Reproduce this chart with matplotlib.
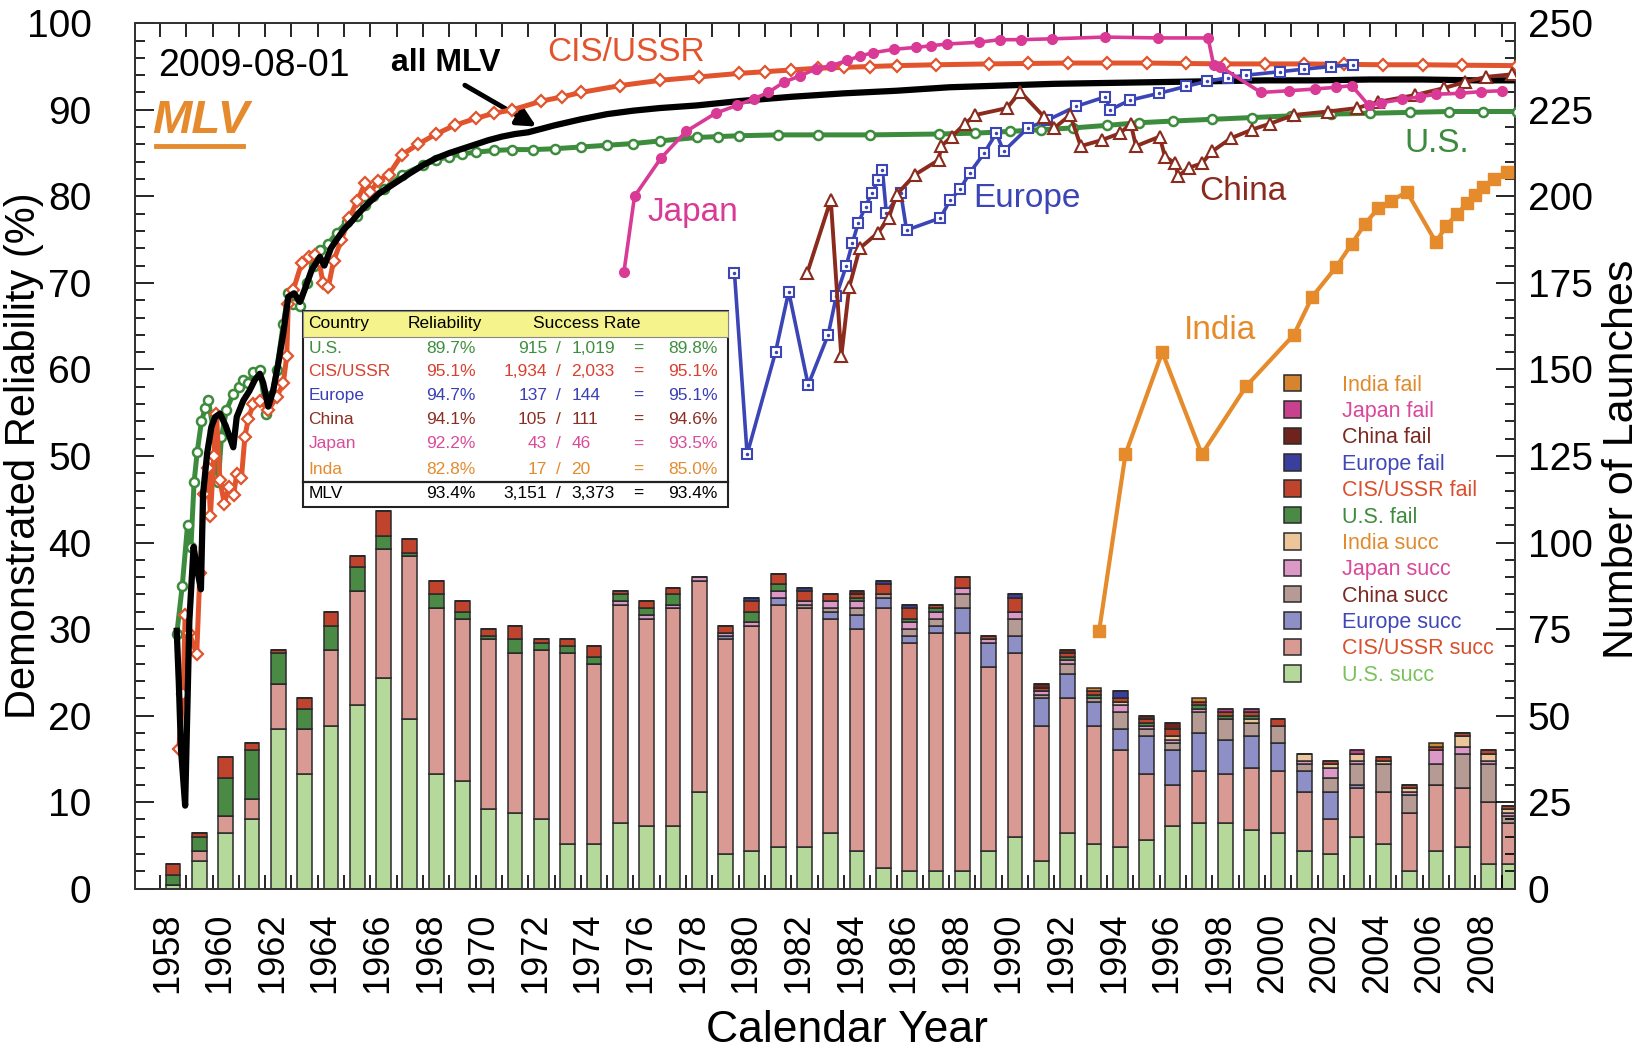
import numpy as np
import matplotlib
matplotlib.use("Agg")
import matplotlib.pyplot as plt
from matplotlib.patches import Rectangle
from matplotlib.lines import Line2D

plt.rcParams['font.family'] = ['Liberation Sans', 'DejaVu Sans']

# ---- launches per calendar year (data through 2009-08-01) ----
years = np.arange(1958, 2010)
data_end = 2009.58

us_succ = [1, 8, 16, 20, 46, 33, 47, 53, 61, 49, 33, 31, 23, 22, 20, 13, 13, 19, 18, 18,
           28, 10, 11, 12, 12, 16, 11, 6, 5, 5, 5, 11, 15, 8, 16, 13, 12, 14, 18, 19,
           19, 17, 16, 11, 10, 15, 13, 5, 11, 12, 7, 7]
cis_succ = [0, 3, 5, 6, 13, 13, 22, 33, 37, 47, 48, 47, 49, 46, 49, 55, 52, 63, 60, 63,
            61, 62, 65, 70, 69, 62, 64, 75, 66, 69, 69, 53, 53, 39, 39, 34, 28, 19, 12, 15,
            14, 18, 18, 17, 10, 14, 15, 17, 19, 17, 18, 12]
eu_succ = [0] * 21 + [1, 0, 2, 0, 2, 4, 3, 2, 2, 7, 7, 5, 8, 7, 7, 6, 11, 10, 11,
                      10, 9, 8, 6, 8, 1, 0, 0, 0, 0, 0, 0]
cn_succ = [0] * 24 + [1, 1, 2, 1, 2, 2, 4, 0, 5, 1, 3, 1, 5, 2, 2, 6,
                      6, 4, 5, 2, 4, 6, 8, 5, 6, 10, 11, 2]
jp_succ = [0] * 17 + [1, 1, 1, 1, 1, 1, 2, 1, 2, 2, 0, 2, 2, 2, 1, 2, 1, 1, 0, 2, 1, 1, 1,
                      0, 0, 0, 1, 3, 1, 0, 1, 4, 2, 1, 1]
in_succ = [0] * 36 + [1, 0, 1, 0, 0, 1, 0, 2, 1, 2, 1, 1, 0, 3, 2, 1]
us_fail = [3, 4, 11, 14, 9, 6, 7, 7, 4, 1, 4, 2, 1, 4, 2, 2, 2, 2, 2, 3,
           0, 0, 3, 2, 0, 0, 1, 0, 1, 1, 0, 0, 0, 0, 1, 1, 0, 1, 0, 1,
           1, 1, 0, 0, 0, 0, 0, 0, 0, 0, 0, 0]
cis_fail = [3, 1, 6, 2, 1, 3, 4, 3, 7, 4, 4, 3, 2, 4, 1, 2, 3, 1, 2, 2,
            0, 2, 3, 3, 3, 2, 1, 3, 3, 1, 3, 1, 4, 1, 1, 1, 1, 1, 2, 1,
            1, 1, 2, 0, 1, 0, 1, 1, 1, 1, 1, 1]
eu_fail = [0] * 22 + [1, 0, 1, 0, 0, 1, 1, 0, 0, 0, 1, 0, 0, 0, 2] + [0] * 15
cn_fail = [0] * 26 + [1, 0, 0, 0, 0, 0, 0, 1, 1, 0, 0, 1, 2] + [0] * 13
jp_fail = [0] * 40 + [1, 1, 0, 0, 0, 1] + [0] * 6
in_fail = [0] * 35 + [1, 0, 0, 0, 1] + [0] * 8 + [1, 0, 0, 0]

# ---- demonstrated reliability curves (year, %) ----
us_t = [1958.64, 1958.85, 1959.05, 1959.18, 1959.30, 1959.42, 1959.58, 1959.72, 1959.84, 1960.03,
        1960.22, 1960.34, 1960.53, 1960.79, 1961.00, 1961.17, 1961.36, 1961.55, 1961.80, 1962.05,
        1962.25, 1962.44, 1962.69, 1962.88, 1963.07, 1963.32, 1963.58, 1963.85, 1964.08, 1964.40,
        1964.72, 1965.10, 1965.50, 1965.80, 1966.10, 1966.50, 1967.20, 1968.0, 1968.5, 1969.0,
        1969.5, 1970.0, 1970.7, 1971.4, 1972.2, 1973.0, 1974.0, 1975.0, 1976.0, 1977.0,
        1978.4, 1979.2, 1980.0, 1981.5, 1983.0, 1985.0, 1987.6, 1989.0, 1990.3, 1991.5,
        1992.7, 1994.0, 1995.2, 1996.5, 1998.0, 1999.5, 2001.0, 2002.5, 2004.0, 2005.5,
        2007.0, 2008.3, 2009.58]
us_r = [29.4, 35.0, 42.0, 39.5, 47.0, 50.5, 54.0, 55.5, 56.5, 53.0,
        47.0, 52.2, 55.3, 57.2, 58.0, 58.8, 58.4, 59.7, 59.9, 54.9,
        57.0, 59.9, 65.3, 68.8, 67.6, 67.3, 70.0, 72.0, 73.8, 74.5,
        75.8, 77.0, 77.7, 79.0, 80.0, 80.8, 82.5, 83.6, 84.2, 84.6,
        84.9, 85.1, 85.3, 85.4, 85.4, 85.5, 85.7, 85.9, 86.1, 86.4,
        86.8, 86.9, 87.0, 87.1, 87.1, 87.1, 87.2, 87.3, 87.5, 87.7,
        87.9, 88.2, 88.5, 88.7, 88.9, 89.1, 89.3, 89.5, 89.6, 89.7,
        89.8, 89.8, 89.8]

cis_t = [1958.72, 1958.88, 1958.96, 1959.12, 1959.40, 1959.52, 1959.68, 1959.84, 1959.92, 1960.05,
         1960.15, 1960.28, 1960.45, 1960.62, 1960.80, 1960.92, 1961.10, 1961.23, 1961.36, 1961.55,
         1961.80, 1962.12, 1962.44, 1962.69, 1962.82, 1962.88, 1963.07, 1963.39, 1963.65, 1963.90,
         1964.05, 1964.20, 1964.40, 1964.60, 1964.90, 1965.20, 1965.50, 1965.80, 1966.00, 1966.30,
         1966.70, 1967.20, 1967.80, 1968.50, 1969.20, 1970.00, 1970.70, 1971.40, 1972.50, 1973.30,
         1974.00, 1975.50, 1977.00, 1978.50, 1980.00, 1981.0, 1982.00, 1983.0, 1984.00, 1985.0,
         1986.00, 1987.5, 1989.50, 1991.0, 1992.50, 1994.0, 1995.50, 1997.0, 1998.50, 2000.0,
         2001.50, 2003.0, 2004.50, 2006.0, 2007.50, 2009.58]
cis_r = [16.2, 22.5, 31.6, 29.5, 27.1, 36.5, 45.6, 48.6, 43.1, 50.0,
         54.9, 47.2, 44.5, 46.4, 45.5, 47.9, 47.5, 52.2, 54.3, 56.0,
         56.4, 55.3, 56.8, 58.4, 61.5, 67.6, 69.2, 72.3, 73.0, 73.2,
         72.5, 70.0, 69.5, 72.5, 75.0, 77.5, 79.5, 81.5, 80.5, 81.8,
         82.5, 84.8, 86.0, 87.2, 88.2, 89.0, 89.6, 90.0, 91.0, 91.5,
         92.0, 92.8, 93.4, 93.8, 94.2, 94.4, 94.6, 94.8, 94.9, 95.0,
         95.1, 95.2, 95.3, 95.35, 95.4, 95.4, 95.4, 95.35, 95.3, 95.3,
         95.3, 95.25, 95.2, 95.2, 95.15, 95.1]

mlv_t = [1958.64, 1958.72, 1958.80, 1958.96, 1959.12, 1959.28, 1959.44, 1959.56, 1959.64, 1959.80,
         1959.96, 1960.10, 1960.28, 1960.50, 1960.79, 1960.92, 1961.17, 1961.40, 1961.61, 1961.80,
         1961.93, 1962.12, 1962.31, 1962.50, 1962.69, 1962.88, 1963.10, 1963.32, 1963.50, 1963.77,
         1964.08, 1964.25, 1964.50, 1964.72, 1965.00, 1965.32, 1965.60, 1965.92, 1966.32, 1966.92,
         1967.52, 1968.0, 1968.5, 1969.0, 1969.5, 1970.0, 1970.5, 1971.0, 1971.5, 1972.0,
         1972.5, 1973.0, 1974.0, 1975.0, 1976.0, 1977.0, 1978.4, 1980.0, 1982.0, 1984.0,
         1986.0, 1988.0, 1990.0, 1992.0, 1994.0, 1996.0, 1998.0, 2000.0, 2002.0, 2004.0,
         2006.0, 2008.0, 2009.58]
mlv_r = [29.8, 23.7, 16.2, 9.6, 31.0, 39.5, 36.5, 34.6, 45.6, 50.4,
         53.4, 54.5, 54.9, 53.5, 51.0, 54.5, 56.4, 57.5, 58.8, 59.5,
         58.4, 55.7, 57.6, 60.7, 64.2, 68.4, 68.8, 67.8, 69.2, 71.5,
         73.0, 72.0, 74.0, 75.0, 76.2, 77.2, 78.2, 79.2, 80.3, 81.5,
         82.7, 83.6, 84.4, 85.0, 85.5, 86.0, 86.5, 86.9, 87.2, 87.4,
         87.8, 88.2, 88.9, 89.5, 89.9, 90.2, 90.5, 91.0, 91.5, 91.9,
         92.2, 92.6, 92.8, 93.0, 93.1, 93.2, 93.3, 93.4, 93.4, 93.5,
         93.5, 93.4, 93.4]

jp_t = [1975.64, 1976.04, 1977.04, 1978.00, 1979.12, 1979.92, 1980.60, 1981.12, 1981.72, 1982.32,
        1982.92, 1983.52, 1984.12, 1984.60, 1985.12, 1985.92, 1986.72, 1987.32, 1987.92, 1989.12,
        1989.92, 1990.72, 1991.92, 1993.92, 1995.92, 1997.84, 1998.05, 1998.30, 1999.85, 2000.90,
        2001.90, 2002.70, 2003.30, 2003.95, 2004.40, 2005.20, 2005.90, 2006.50, 2007.40, 2008.20,
        2009.00]
jp_r = [71.3, 80.0, 84.4, 87.5, 89.6, 90.5, 91.3, 92.0, 93.2, 93.9,
        94.7, 95.1, 95.7, 96.2, 96.6, 97.0, 97.2, 97.4, 97.6, 97.8,
        98.1, 98.1, 98.2, 98.4, 98.3, 98.3, 95.2, 95.0, 92.0, 92.2,
        92.4, 92.6, 92.8, 90.5, 90.8, 91.2, 91.5, 91.8, 91.9, 92.1,
        92.2]

eu_t = [1979.84, 1980.32, 1981.40, 1981.90, 1982.64, 1983.40, 1983.71, 1984.08, 1984.32, 1984.54,
        1984.82, 1985.06, 1985.31, 1985.46, 1985.61, 1986.16, 1986.38, 1987.67, 1988.04, 1988.41,
        1988.78, 1989.33, 1989.79, 1990.07, 1990.99, 1991.73, 1992.83, 1993.94, 1994.12, 1994.86,
        1995.97, 1997.00, 1997.81, 1998.60, 1999.28, 2000.57, 2001.50, 2002.50, 2003.34]
eu_r = [71.1, 50.2, 62.0, 69.0, 58.2, 64.0, 68.5, 71.9, 74.6, 76.9,
        78.8, 80.4, 81.9, 83.1, 78.1, 80.4, 76.1, 77.5, 79.6, 80.8,
        82.7, 85.0, 87.3, 85.2, 87.9, 88.8, 90.4, 91.5, 90.0, 91.1,
        91.9, 92.7, 93.3, 93.7, 94.0, 94.4, 94.7, 95.0, 95.2]

cn_t = [1982.60, 1983.50, 1983.90, 1984.20, 1984.60, 1985.30, 1985.70, 1986.00, 1986.70, 1987.60,
        1987.70, 1988.10, 1988.60, 1989.00, 1990.20, 1990.70, 1991.60, 1992.00, 1992.60, 1993.00,
        1993.80, 1994.50, 1994.90, 1995.10, 1996.00, 1996.20, 1996.60, 1996.70, 1997.10, 1997.60,
        1998.00, 1998.70, 1999.50, 2000.20, 2001.10, 2002.40, 2003.50, 2004.30, 2005.70, 2006.80,
        2007.60, 2008.40, 2009.40]
cn_r = [71.1, 79.6, 61.5, 69.5, 74.0, 75.8, 77.5, 80.2, 82.5, 84.2,
        85.8, 86.9, 88.4, 89.4, 90.2, 92.1, 89.2, 87.9, 89.4, 85.8,
        86.5, 87.3, 88.4, 85.8, 86.9, 84.6, 83.8, 82.3, 83.3, 83.8,
        85.2, 86.7, 87.7, 88.4, 89.4, 89.8, 90.2, 90.9, 91.7, 92.5,
        93.2, 93.8, 94.1]

in_t = [1993.70, 1994.70, 1996.10, 1997.60, 1999.30, 2001.10, 2001.80, 2002.70, 2003.30, 2003.80,
        2004.30, 2004.80, 2005.40, 2006.50, 2006.90, 2007.30, 2007.70, 2008.00, 2008.30, 2008.70,
        2009.20]
in_r = [29.8, 50.2, 62.0, 50.2, 58.1, 64.0, 68.4, 71.8, 74.5, 76.8,
        78.6, 79.5, 80.5, 74.7, 76.6, 78.0, 79.2, 80.2, 81.1, 82.0,
        82.8]

# summary table
tab_country = ['U.S.', 'CIS/USSR', 'Europe', 'China', 'Japan', 'Inda']
tab_rel = ['89.7%', '95.1%', '94.7%', '94.1%', '92.2%', '82.8%']
tab_succ = ['915', '1,934', '137', '105', '43', '17']
tab_tot = ['1,019', '2,033', '144', '111', '46', '20']
tab_rate = ['89.8%', '95.1%', '95.1%', '94.6%', '93.5%', '85.0%']
tab_mlv = ['MLV', '93.4%', '3,151', '3,373', '93.4%']

US_C = '#3d8b3d'
CIS_C = '#e2542d'
EU_C = '#3b45b5'
CN_C = '#8a2b1e'
JP_C = '#d93a96'
IN_C = '#e58b2b'
tab_colors = ['#3f8f3f', '#d9412f', '#3a3fb5', '#8b2e22', '#d94c9a', '#e38b2e']

fig = plt.figure(figsize=(16.5, 10.56), dpi=100)
ax = fig.add_axes([0.0816, 0.1584, 0.8368, 0.8196])
ax2 = ax.twinx()
ax.set_zorder(ax2.get_zorder() + 1)
ax.patch.set_visible(False)

# ---- stacked bars (right axis) ----
bar_x = years + 0.5
bar_x[-1] = (years[-1] + data_end) / 2
stack = [
    (us_succ, '#b5d89b', 'U.S. succ', '#7cc25c'),
    (cis_succ, '#d99a94', 'CIS/USSR succ', '#d9502e'),
    (eu_succ, '#8f8fc8', 'Europe succ', '#4048b8'),
    (cn_succ, '#b69a94', 'China succ', '#7a2a20'),
    (jp_succ, '#dc98c6', 'Japan succ', '#d9489a'),
    (in_succ, '#ecc59b', 'India succ', '#e08a2e'),
    (us_fail, '#4b8a45', 'U.S. fail', '#3d8b3d'),
    (cis_fail, '#c0432e', 'CIS/USSR fail', '#d9502e'),
    (eu_fail, '#3a3e9c', 'Europe fail', '#4048b8'),
    (cn_fail, '#6e241d', 'China fail', '#7a2a20'),
    (jp_fail, '#c8418f', 'Japan fail', '#d9489a'),
    (in_fail, '#d5852f', 'India fail', '#e08a2e'),
]
bottom = np.zeros(len(years))
handles, labels, lcolors = [], [], []
for vals, fc, lab, tc in stack:
    v = np.array(vals, dtype=float)
    b = ax2.bar(bar_x, v, width=0.56, bottom=bottom, color=fc,
                edgecolor='#2a2a2a', linewidth=1.1)
    handles.append(b)
    labels.append(lab)
    lcolors.append(tc)
    bottom += v

# ---- reliability curves (left axis) ----
ax.plot(us_t, us_r, color=US_C, lw=3.6, marker='o', ms=6.5, mfc='white',
        mec=US_C, mew=1.8, zorder=3)
ax.plot(cis_t, cis_r, color=CIS_C, lw=3.6, marker='D', ms=6, mfc='white',
        mec=CIS_C, mew=1.6, zorder=4)
ax.plot(mlv_t, mlv_r, color='black', lw=4.5, zorder=5, solid_joinstyle='round')
ax.plot(eu_t, eu_r, color=EU_C, lw=2.6, marker='s', ms=7.5, mfc='white',
        mec=EU_C, mew=1.5, zorder=6)
ax.plot(eu_t, eu_r, ls='none', marker='.', ms=3, color=EU_C, zorder=6)
ax.plot(cn_t, cn_r, color=CN_C, lw=2.8, marker='^', ms=8, mfc='white',
        mec=CN_C, mew=1.5, zorder=6)
ax.plot(jp_t, jp_r, color=JP_C, lw=2.6, marker='o', ms=7, zorder=7)
ax.plot(in_t, in_r, color=IN_C, lw=3, marker='s', ms=8, zorder=7)

# ---- annotations ----
ax.text(1957.92, 95.1, '2009-08-01', fontsize=27, va='center', ha='left')
ax.text(1966.8, 95.4, 'all MLV', fontsize=23, fontweight='bold', va='center')
ax.annotate('', xy=(1972.4, 87.9), xytext=(1969.5, 93.0),
            arrowprops=dict(arrowstyle='-|>', color='black', lw=3.5, mutation_scale=28))
mlv_txt = ax.text(1957.72, 88.7, 'MLV', fontsize=34, fontweight='bold',
                  style='italic', color='#e68a2e', va='center')
ax.text(1972.72, 96.6, 'CIS/USSR', fontsize=24, color=CIS_C, va='center')
ax.text(1976.52, 78.1, 'Japan', fontsize=24, color=JP_C, va='center')
ax.text(1988.92, 79.8, 'Europe', fontsize=24, color=EU_C, va='center')
ax.text(1997.52, 80.6, 'China', fontsize=24, color=CN_C, va='center')
ax.text(2005.32, 86.1, 'U.S.', fontsize=24, color=US_C, va='center')
ax.text(1996.92, 64.5, 'India', fontsize=24, color=IN_C, va='center')

# ---- summary table ----
tx = ax.transAxes
x0, x1 = 0.122, 0.430
ax.add_patch(Rectangle((x0, 0.4411), x1 - x0, 0.226, transform=tx, facecolor='white',
                       edgecolor='#222222', lw=1.5, zorder=10))
ax.add_patch(Rectangle((x0, 0.6379), x1 - x0, 0.0292, transform=tx, facecolor='#f5f38c',
                       edgecolor='#888888', lw=0.8, zorder=10.5))
ax.add_line(Line2D([x0, x1], [0.4702, 0.4702], transform=tx, color='#222222', lw=1.6, zorder=11))
fs = 12.5
ax.text(0.1258, 0.6525, 'Country', transform=tx, fontsize=fs, va='center', zorder=12)
ax.text(0.2248, 0.6525, 'Reliability', transform=tx, fontsize=fs, va='center', ha='center', zorder=12)
ax.text(0.3277, 0.6525, 'Success Rate', transform=tx, fontsize=fs, va='center', ha='center', zorder=12)
row_y = [0.6245, 0.5978, 0.5699, 0.5419, 0.5140, 0.4848]
for i in range(len(tab_country)):
    y = row_y[i]
    c = tab_colors[i]
    kw = dict(transform=tx, fontsize=fs, va='center', color=c, zorder=12)
    ax.text(0.1258, y, tab_country[i], **kw)
    ax.text(0.2470, y, tab_rel[i], ha='right', **kw)
    ax.text(0.2988, y, tab_succ[i], ha='right', **kw)
    ax.text(0.3072, y, '/', ha='center', **kw)
    ax.text(0.3163, y, tab_tot[i], ha='left', **kw)
    ax.text(0.3651, y, '=', ha='center', **kw)
    ax.text(0.4223, y, tab_rate[i], ha='right', **kw)
kw = dict(transform=tx, fontsize=fs, va='center', color='black', zorder=12)
ax.text(0.1258, 0.4569, tab_mlv[0], **kw)
ax.text(0.2470, 0.4569, tab_mlv[1], ha='right', **kw)
ax.text(0.2988, 0.4569, tab_mlv[2], ha='right', **kw)
ax.text(0.3072, 0.4569, '/', ha='center', **kw)
ax.text(0.3163, 0.4569, tab_mlv[3], ha='left', **kw)
ax.text(0.3651, 0.4569, '=', ha='center', **kw)
ax.text(0.4223, 0.4569, tab_mlv[4], ha='right', **kw)

# ---- legend ----
leg = ax.legend(handles[::-1], labels[::-1], loc='upper left', bbox_to_anchor=(0.8323, 0.594),
                frameon=False, fontsize=15.5, handlelength=0.8, handleheight=0.8,
                handletextpad=1.9, labelspacing=0.25, borderaxespad=0, borderpad=0,
                labelcolor=lcolors[::-1])
leg.set_zorder(20)

# ---- axes, ticks ----
ax.set_xlim(1957.04, 2009.52)
ax.set_ylim(0, 100)
ax2.set_ylim(0, 250)

ax.set_xticks(np.arange(1958, 2009, 2) + 0.28)
ax.set_xticklabels([str(y) for y in range(1958, 2009, 2)], rotation=90)
ax.set_xticks(np.arange(1958, 2010), minor=True)
ax.tick_params(axis='x', which='major', length=0, pad=17, labelsize=26)
ax.tick_params(axis='x', which='minor', direction='in', length=10, width=1.2,
               top=True, bottom=True)

ax.set_yticks(np.arange(0, 101, 10))
ax.set_yticks(np.arange(0, 101, 2), minor=True)
ax.tick_params(axis='y', which='major', direction='in', length=14, width=1.2,
               labelsize=28, pad=31)
ax.tick_params(axis='y', which='minor', direction='in', length=7, width=1.2)

ax2.set_yticks(np.arange(0, 251, 25))
ax2.set_yticks(np.arange(0, 251, 5), minor=True)
ax2.tick_params(axis='y', which='major', direction='in', length=14, width=1.2,
                labelsize=28, pad=9)
ax2.tick_params(axis='y', which='minor', direction='in', length=7, width=1.2)

for a in (ax, ax2):
    for s in a.spines.values():
        s.set_linewidth(1.3)
        s.set_color('#333333')

fig.text(0.0145, 0.5685, 'Demonstrated Reliability (%)', rotation=90, fontsize=30,
         ha='center', va='center')
fig.text(0.983, 0.5654, 'Number of Launches', rotation=90, fontsize=31,
         ha='center', va='center')
fig.text(0.513, 0.024, 'Calendar Year', fontsize=32, ha='center', va='center')

# underline for the MLV tag
fig.canvas.draw()
bb = mlv_txt.get_window_extent().transformed(fig.transFigure.inverted())
fig.add_artist(Line2D([bb.x0 + 0.002, bb.x1 - 0.004], [bb.y0 - 0.003] * 2, color='#e68a2e',
                      lw=3.5, transform=fig.transFigure))

fig.savefig('out.png', dpi=100, facecolor='white')
